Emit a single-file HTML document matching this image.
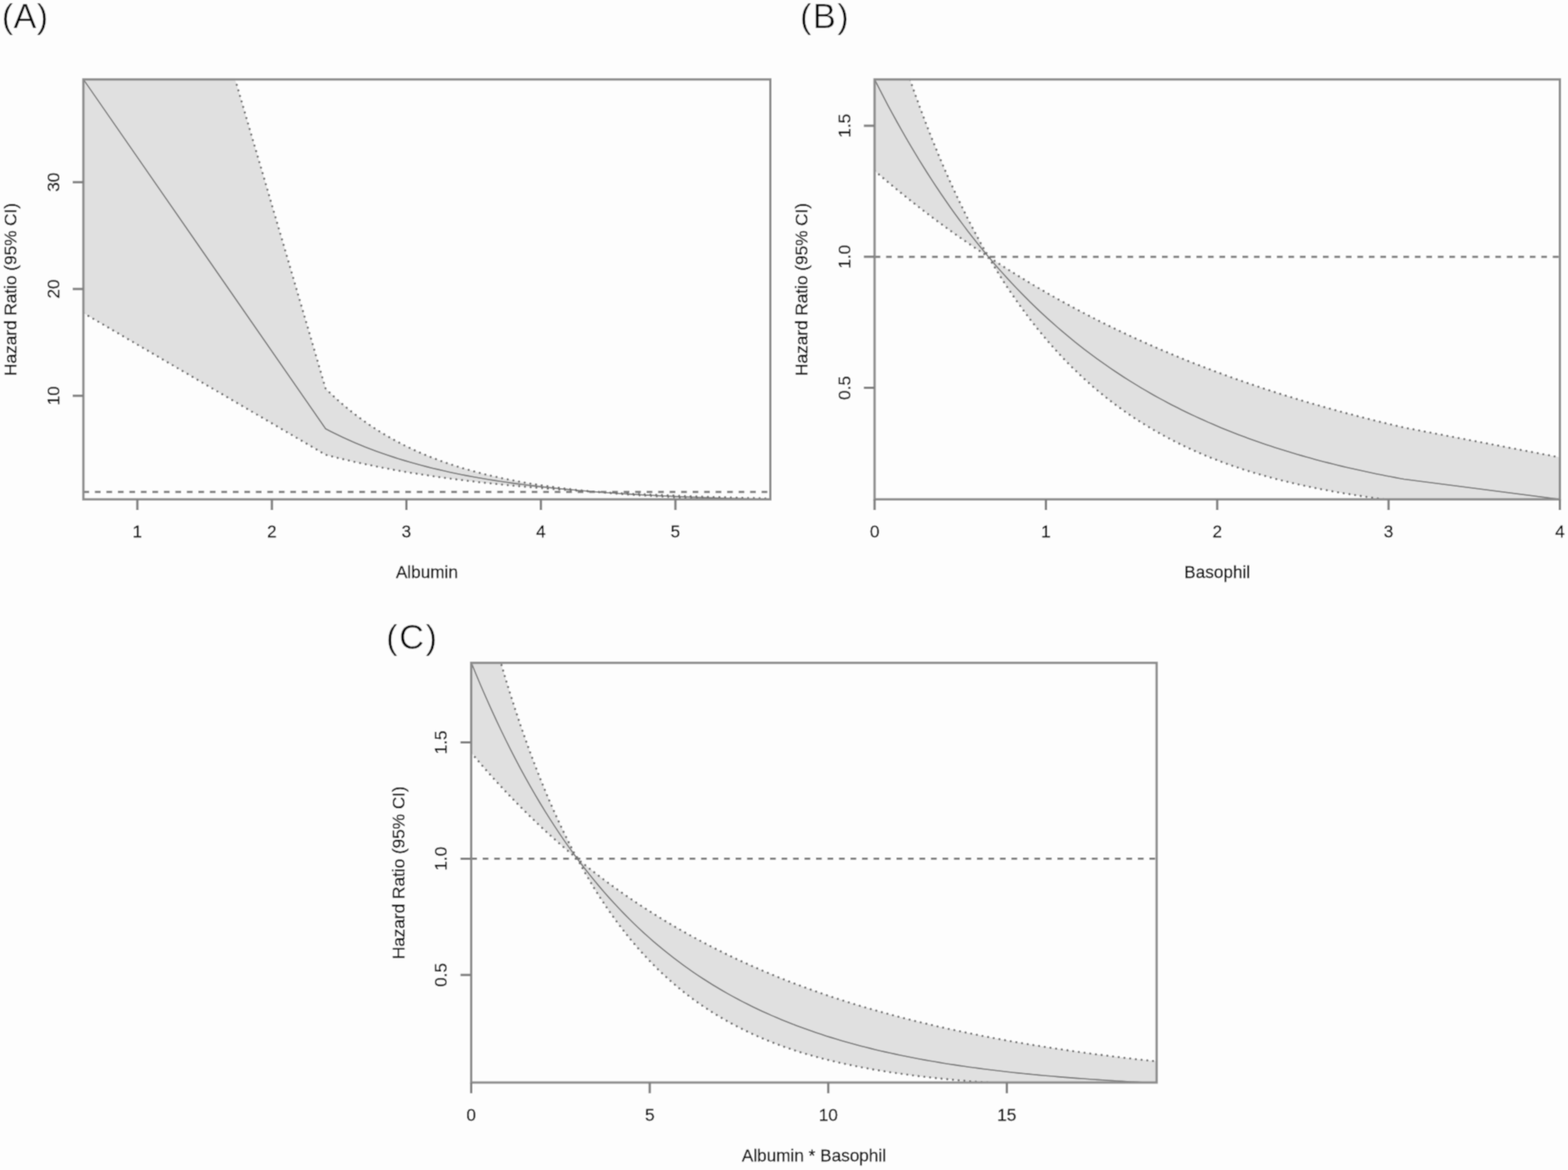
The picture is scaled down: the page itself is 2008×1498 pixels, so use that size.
<!DOCTYPE html>
<html><head><meta charset="utf-8"><title>Hazard ratio plots</title>
<style>html,body{margin:0;padding:0;background:#fdfdfd;overflow:hidden;width:2008px;height:1498px;}svg{display:block;}</style>
</head><body>
<svg width="2008" height="1498" viewBox="0 0 2008 1498">
<defs><filter id="soft" filterUnits="userSpaceOnUse" x="0" y="0" width="2008" height="1498"><feConvolveMatrix order="3" kernelMatrix="0.0400 0.1200 0.0400 0.1200 0.3600 0.1200 0.0400 0.1200 0.0400" divisor="1" edgeMode="duplicate"/></filter></defs>
<rect width="2008" height="1498" fill="#fdfdfd"/>
<g filter="url(#soft)">
<rect width="2008" height="1498" fill="#fdfdfd"/>
<clipPath id="cA"><rect x="106.8" y="101.7" width="879.7" height="537.6"/></clipPath>
<g clip-path="url(#cA)">
<polygon points="106.8,400.72 417,582.3 424.21,584.18 431.42,585.99 438.62,587.75 445.83,589.46 453.04,591.12 460.25,592.72 467.46,594.28 474.67,595.78 481.88,597.24 489.09,598.66 496.3,600.03 503.5,601.37 510.71,602.66 517.92,603.91 525.13,605.12 532.34,606.29 539.55,607.43 546.76,608.54 553.97,609.61 561.18,610.64 568.38,611.65 575.59,612.62 582.8,613.57 590.01,614.49 597.22,615.37 604.43,616.23 611.64,617.07 618.85,617.88 626.06,618.66 633.26,619.42 640.47,620.16 647.68,620.87 654.89,621.56 662.1,622.23 669.31,622.89 676.52,623.52 683.73,624.13 690.94,624.72 698.14,625.29 705.35,625.85 712.56,626.39 719.77,626.91 726.98,627.42 734.19,627.91 741.4,628.39 748.61,628.85 755.82,629.3 763.02,629.73 770.23,630.36 777.44,630.99 784.65,631.59 791.86,632.16 799.07,632.7 806.28,633.22 813.49,633.71 820.7,634.18 827.9,634.62 835.11,635.05 842.32,635.45 849.53,635.83 856.74,636.2 863.95,636.55 871.16,636.88 878.37,637.2 885.58,637.5 892.78,637.78 899.99,638.05 907.2,638.31 914.41,638.56 921.62,638.79 928.83,639.02 936.04,639.23 943.25,639.43 950.46,639.63 957.66,639.81 964.87,639.98 972.08,640.15 979.29,640.31 986.5,640.46 986.5,638.22 979.29,638.06 972.08,637.89 964.87,637.71 957.66,637.53 950.46,637.34 943.25,637.15 936.04,636.95 928.83,636.75 921.62,636.53 914.41,636.32 907.2,636.09 899.99,635.86 892.78,635.62 885.58,635.37 878.37,635.11 871.16,634.85 863.95,634.58 856.74,634.3 849.53,634.01 842.32,633.71 835.11,633.4 827.9,633.08 820.7,632.76 813.49,632.42 806.28,632.07 799.07,631.71 791.86,631.34 784.65,630.95 777.44,630.56 770.23,630.15 763.02,629.7 755.82,629.01 748.61,628.28 741.4,627.52 734.19,626.71 726.98,625.87 719.77,624.98 712.56,624.05 705.35,623.07 698.14,622.04 690.94,620.96 683.73,619.83 676.52,618.64 669.31,617.39 662.1,616.07 654.89,614.69 647.68,613.24 640.47,611.72 633.26,610.12 626.06,608.43 618.85,606.67 611.64,604.81 604.43,602.86 597.22,600.82 590.01,598.66 582.8,596.41 575.59,594.03 568.38,591.54 561.18,588.92 553.97,586.17 546.76,583.28 539.55,580.25 532.34,577.06 525.13,573.71 517.92,570.19 510.71,566.49 503.5,562.61 496.3,558.53 489.09,554.25 481.88,549.75 474.67,545.02 467.46,540.06 460.25,534.84 453.04,529.36 445.83,523.61 438.62,517.56 431.42,511.21 424.21,504.54 417,497.54 106.8,-562.36" fill="#e0e0e0" stroke="none"/>
<polyline points="106.8,-562.36 417,497.54 424.21,504.54 431.42,511.21 438.62,517.56 445.83,523.61 453.04,529.36 460.25,534.84 467.46,540.06 474.67,545.02 481.88,549.75 489.09,554.25 496.3,558.53 503.5,562.61 510.71,566.49 517.92,570.19 525.13,573.71 532.34,577.06 539.55,580.25 546.76,583.28 553.97,586.17 561.18,588.92 568.38,591.54 575.59,594.03 582.8,596.41 590.01,598.66 597.22,600.82 604.43,602.86 611.64,604.81 618.85,606.67 626.06,608.43 633.26,610.12 640.47,611.72 647.68,613.24 654.89,614.69 662.1,616.07 669.31,617.39 676.52,618.64 683.73,619.83 690.94,620.96 698.14,622.04 705.35,623.07 712.56,624.05 719.77,624.98 726.98,625.87 734.19,626.71 741.4,627.52 748.61,628.28 755.82,629.01 763.02,629.7 770.23,630.15 777.44,630.56 784.65,630.95 791.86,631.34 799.07,631.71 806.28,632.07 813.49,632.42 820.7,632.76 827.9,633.08 835.11,633.4 842.32,633.71 849.53,634.01 856.74,634.3 863.95,634.58 871.16,634.85 878.37,635.11 885.58,635.37 892.78,635.62 899.99,635.86 907.2,636.09 914.41,636.32 921.62,636.53 928.83,636.75 936.04,636.95 943.25,637.15 950.46,637.34 957.66,637.53 964.87,637.71 972.08,637.89 979.29,638.06 986.5,638.22" fill="none" stroke="#6c6c6c" stroke-width="2.8" stroke-dasharray="0.01 7.35" stroke-linecap="round"/>
<polyline points="106.8,400.72 417,582.3 424.21,584.18 431.42,585.99 438.62,587.75 445.83,589.46 453.04,591.12 460.25,592.72 467.46,594.28 474.67,595.78 481.88,597.24 489.09,598.66 496.3,600.03 503.5,601.37 510.71,602.66 517.92,603.91 525.13,605.12 532.34,606.29 539.55,607.43 546.76,608.54 553.97,609.61 561.18,610.64 568.38,611.65 575.59,612.62 582.8,613.57 590.01,614.49 597.22,615.37 604.43,616.23 611.64,617.07 618.85,617.88 626.06,618.66 633.26,619.42 640.47,620.16 647.68,620.87 654.89,621.56 662.1,622.23 669.31,622.89 676.52,623.52 683.73,624.13 690.94,624.72 698.14,625.29 705.35,625.85 712.56,626.39 719.77,626.91 726.98,627.42 734.19,627.91 741.4,628.39 748.61,628.85 755.82,629.3 763.02,629.73 770.23,630.36 777.44,630.99 784.65,631.59 791.86,632.16 799.07,632.7 806.28,633.22 813.49,633.71 820.7,634.18 827.9,634.62 835.11,635.05 842.32,635.45 849.53,635.83 856.74,636.2 863.95,636.55 871.16,636.88 878.37,637.2 885.58,637.5 892.78,637.78 899.99,638.05 907.2,638.31 914.41,638.56 921.62,638.79 928.83,639.02 936.04,639.23 943.25,639.43 950.46,639.63 957.66,639.81 964.87,639.98 972.08,640.15 979.29,640.31 986.5,640.46" fill="none" stroke="#6c6c6c" stroke-width="2.8" stroke-dasharray="0.01 7.35" stroke-linecap="round"/>
<polyline points="106.8,101.65 417,548.99 424.21,552.71 431.42,556.28 438.62,559.72 445.83,563.01 453.04,566.18 460.25,569.22 467.46,572.15 474.67,574.95 481.88,577.65 489.09,580.24 496.3,582.73 503.5,585.12 510.71,587.42 517.92,589.63 525.13,591.75 532.34,593.78 539.55,595.74 546.76,597.62 553.97,599.42 561.18,601.15 568.38,602.82 575.59,604.42 582.8,605.96 590.01,607.43 597.22,608.85 604.43,610.21 611.64,611.52 618.85,612.78 626.06,613.99 633.26,615.15 640.47,616.26 647.68,617.33 654.89,618.36 662.1,619.35 669.31,620.3 676.52,621.21 683.73,622.09 690.94,622.93 698.14,623.74 705.35,624.51 712.56,625.26 719.77,625.97 726.98,626.66 734.19,627.32 741.4,627.96 748.61,628.57 755.82,629.15 763.02,629.72 770.23,630.26 777.44,630.78 784.65,631.28 791.86,631.76 799.07,632.22 806.28,632.66 813.49,633.08 820.7,633.49 827.9,633.88 835.11,634.26 842.32,634.62 849.53,634.97 856.74,635.3 863.95,635.62 871.16,635.93 878.37,636.23 885.58,636.51 892.78,636.79 899.99,637.05 907.2,637.3 914.41,637.54 921.62,637.78 928.83,638 936.04,638.21 943.25,638.42 950.46,638.62 957.66,638.81 964.87,638.99 972.08,639.17 979.29,639.34 986.5,639.5" fill="none" stroke="#727272" stroke-width="1.6" stroke-linejoin="round"/>
<line x1="106.8" y1="629.78" x2="986.5" y2="629.78" stroke="#787878" stroke-width="2.8" stroke-dasharray="7.36 7.36"/>
</g>
<rect x="106.8" y="101.7" width="879.7" height="537.6" fill="none" stroke="#8c8c8c" stroke-width="3.0"/>
<path d="M175.92 639.3V653M348.18 639.3V653M520.44 639.3V653M692.7 639.3V653M864.96 639.3V653M106.8 506.7H93.1M106.8 369.95H93.1M106.8 233.2H93.1" stroke="#808080" stroke-width="3.0" fill="none"/>
<g font-family="'Liberation Sans', Arial, Helvetica, sans-serif" font-size="22" fill="#000" stroke="#000" stroke-width="0.3">
<text x="175.92" y="688" text-anchor="middle">1</text>
<text x="348.18" y="688" text-anchor="middle">2</text>
<text x="520.44" y="688" text-anchor="middle">3</text>
<text x="692.7" y="688" text-anchor="middle">4</text>
<text x="864.96" y="688" text-anchor="middle">5</text>
<text transform="translate(75.5,506.7) rotate(-90)" text-anchor="middle">10</text>
<text transform="translate(75.5,369.95) rotate(-90)" text-anchor="middle">20</text>
<text transform="translate(75.5,233.2) rotate(-90)" text-anchor="middle">30</text>
<text x="546.65" y="740.1" text-anchor="middle">Albumin</text>
<text transform="translate(21.1,370.5) rotate(-90)" text-anchor="middle">Hazard Ratio (95% CI)</text>
</g>
<clipPath id="cB"><rect x="1120" y="101.7" width="877.6" height="537.6"/></clipPath>
<g clip-path="url(#cB)">
<polygon points="1120,218.51 1125.7,223.43 1131.39,228.3 1137.09,233.11 1142.79,237.87 1148.49,242.58 1154.18,247.24 1159.88,251.84 1165.58,256.4 1171.27,260.9 1176.97,265.36 1182.67,269.76 1188.36,274.12 1194.06,278.43 1199.76,282.69 1205.46,286.9 1211.15,291.07 1216.85,295.19 1222.55,299.26 1228.24,303.3 1233.94,307.28 1239.64,311.22 1245.33,315.12 1251.03,318.98 1256.73,322.79 1262.43,326.56 1268.12,332.7 1273.82,342.21 1279.52,351.45 1285.21,360.42 1290.91,369.14 1296.61,377.61 1302.3,385.83 1308,393.82 1313.7,401.58 1319.4,409.12 1325.09,416.44 1330.79,423.55 1336.49,430.45 1342.18,437.16 1347.88,443.68 1353.58,450.01 1359.28,456.16 1364.97,462.13 1370.67,467.93 1376.37,473.56 1382.06,479.03 1387.76,484.35 1393.46,489.51 1399.15,494.53 1404.85,499.4 1410.55,504.13 1416.25,508.73 1421.94,513.19 1427.64,517.53 1433.34,521.74 1439.03,525.83 1444.73,529.8 1450.43,533.66 1456.12,537.41 1461.82,541.05 1467.52,544.59 1473.22,548.03 1478.91,551.36 1484.61,554.61 1490.31,557.75 1496,560.81 1501.7,563.78 1507.4,566.67 1513.09,569.47 1518.79,572.19 1524.49,574.84 1530.19,577.4 1535.88,579.9 1541.58,582.32 1547.28,584.68 1552.97,586.96 1558.67,589.18 1564.37,591.34 1570.06,593.44 1575.76,595.47 1581.46,597.45 1587.16,599.37 1592.85,601.23 1598.55,603.04 1604.25,604.8 1609.94,606.51 1615.64,608.17 1621.34,609.78 1627.04,611.35 1632.73,612.87 1638.43,614.35 1644.13,615.78 1649.82,617.18 1655.52,618.53 1661.22,619.85 1666.91,621.13 1672.61,622.37 1678.31,623.57 1684.01,624.74 1689.7,625.88 1695.4,626.98 1701.1,628.06 1706.79,629.1 1712.49,630.11 1718.19,631.1 1723.88,632.05 1729.58,632.98 1735.28,633.88 1740.98,634.75 1746.67,635.6 1752.37,636.43 1758.07,637.23 1763.76,638.01 1769.46,638.77 1775.16,639.5 1780.85,640.22 1786.55,640.91 1792.25,641.58 1797.95,642.24 1997.6,656.41 1997.6,585.61 1797.95,547.41 1792.25,546.08 1786.55,544.74 1780.85,543.38 1775.16,542 1769.46,540.62 1763.76,539.21 1758.07,537.79 1752.37,536.35 1746.67,534.9 1740.98,533.43 1735.28,531.95 1729.58,530.44 1723.88,528.92 1718.19,527.39 1712.49,525.83 1706.79,524.26 1701.1,522.67 1695.4,521.06 1689.7,519.43 1684.01,517.79 1678.31,516.13 1672.61,514.44 1666.91,512.74 1661.22,511.02 1655.52,509.28 1649.82,507.52 1644.13,505.74 1638.43,503.94 1632.73,502.12 1627.04,500.28 1621.34,498.42 1615.64,496.53 1609.94,494.63 1604.25,492.7 1598.55,490.76 1592.85,488.79 1587.16,486.79 1581.46,484.78 1575.76,482.74 1570.06,480.68 1564.37,478.59 1558.67,476.49 1552.97,474.35 1547.28,472.2 1541.58,470.02 1535.88,467.81 1530.19,465.58 1524.49,463.32 1518.79,461.04 1513.09,458.74 1507.4,456.4 1501.7,454.04 1496,451.66 1490.31,449.24 1484.61,446.8 1478.91,444.33 1473.22,441.83 1467.52,439.31 1461.82,436.75 1456.12,434.17 1450.43,431.56 1444.73,428.92 1439.03,426.25 1433.34,423.54 1427.64,420.81 1421.94,418.05 1416.25,415.25 1410.55,412.42 1404.85,409.57 1399.15,406.67 1393.46,403.75 1387.76,400.79 1382.06,397.8 1376.37,394.78 1370.67,391.72 1364.97,388.62 1359.28,385.49 1353.58,382.33 1347.88,379.13 1342.18,375.89 1336.49,372.62 1330.79,369.31 1325.09,365.96 1319.4,362.57 1313.7,359.15 1308,355.69 1302.3,352.18 1296.61,348.64 1290.91,345.06 1285.21,341.44 1279.52,337.77 1273.82,334.06 1268.12,330.32 1262.43,322.87 1256.73,312.72 1251.03,302.27 1245.33,291.51 1239.64,280.44 1233.94,269.03 1228.24,257.28 1222.55,245.19 1216.85,232.73 1211.15,219.91 1205.46,206.7 1199.76,193.1 1194.06,179.1 1188.36,164.68 1182.67,149.84 1176.97,134.55 1171.27,118.81 1165.58,102.6 1159.88,85.91 1154.18,68.72 1148.49,51.02 1142.79,32.8 1137.09,14.03 1131.39,-5.29 1125.7,-25.19 1120,-45.67" fill="#e0e0e0" stroke="none"/>
<polyline points="1120,-45.67 1125.7,-25.19 1131.39,-5.29 1137.09,14.03 1142.79,32.8 1148.49,51.02 1154.18,68.72 1159.88,85.91 1165.58,102.6 1171.27,118.81 1176.97,134.55 1182.67,149.84 1188.36,164.68 1194.06,179.1 1199.76,193.1 1205.46,206.7 1211.15,219.91 1216.85,232.73 1222.55,245.19 1228.24,257.28 1233.94,269.03 1239.64,280.44 1245.33,291.51 1251.03,302.27 1256.73,312.72 1262.43,322.87 1268.12,330.32 1273.82,334.06 1279.52,337.77 1285.21,341.44 1290.91,345.06 1296.61,348.64 1302.3,352.18 1308,355.69 1313.7,359.15 1319.4,362.57 1325.09,365.96 1330.79,369.31 1336.49,372.62 1342.18,375.89 1347.88,379.13 1353.58,382.33 1359.28,385.49 1364.97,388.62 1370.67,391.72 1376.37,394.78 1382.06,397.8 1387.76,400.79 1393.46,403.75 1399.15,406.67 1404.85,409.57 1410.55,412.42 1416.25,415.25 1421.94,418.05 1427.64,420.81 1433.34,423.54 1439.03,426.25 1444.73,428.92 1450.43,431.56 1456.12,434.17 1461.82,436.75 1467.52,439.31 1473.22,441.83 1478.91,444.33 1484.61,446.8 1490.31,449.24 1496,451.66 1501.7,454.04 1507.4,456.4 1513.09,458.74 1518.79,461.04 1524.49,463.32 1530.19,465.58 1535.88,467.81 1541.58,470.02 1547.28,472.2 1552.97,474.35 1558.67,476.49 1564.37,478.59 1570.06,480.68 1575.76,482.74 1581.46,484.78 1587.16,486.79 1592.85,488.79 1598.55,490.76 1604.25,492.7 1609.94,494.63 1615.64,496.53 1621.34,498.42 1627.04,500.28 1632.73,502.12 1638.43,503.94 1644.13,505.74 1649.82,507.52 1655.52,509.28 1661.22,511.02 1666.91,512.74 1672.61,514.44 1678.31,516.13 1684.01,517.79 1689.7,519.43 1695.4,521.06 1701.1,522.67 1706.79,524.26 1712.49,525.83 1718.19,527.39 1723.88,528.92 1729.58,530.44 1735.28,531.95 1740.98,533.43 1746.67,534.9 1752.37,536.35 1758.07,537.79 1763.76,539.21 1769.46,540.62 1775.16,542 1780.85,543.38 1786.55,544.74 1792.25,546.08 1797.95,547.41 1997.6,585.61" fill="none" stroke="#6c6c6c" stroke-width="2.8" stroke-dasharray="0.01 7.35" stroke-linecap="round"/>
<polyline points="1120,218.51 1125.7,223.43 1131.39,228.3 1137.09,233.11 1142.79,237.87 1148.49,242.58 1154.18,247.24 1159.88,251.84 1165.58,256.4 1171.27,260.9 1176.97,265.36 1182.67,269.76 1188.36,274.12 1194.06,278.43 1199.76,282.69 1205.46,286.9 1211.15,291.07 1216.85,295.19 1222.55,299.26 1228.24,303.3 1233.94,307.28 1239.64,311.22 1245.33,315.12 1251.03,318.98 1256.73,322.79 1262.43,326.56 1268.12,332.7 1273.82,342.21 1279.52,351.45 1285.21,360.42 1290.91,369.14 1296.61,377.61 1302.3,385.83 1308,393.82 1313.7,401.58 1319.4,409.12 1325.09,416.44 1330.79,423.55 1336.49,430.45 1342.18,437.16 1347.88,443.68 1353.58,450.01 1359.28,456.16 1364.97,462.13 1370.67,467.93 1376.37,473.56 1382.06,479.03 1387.76,484.35 1393.46,489.51 1399.15,494.53 1404.85,499.4 1410.55,504.13 1416.25,508.73 1421.94,513.19 1427.64,517.53 1433.34,521.74 1439.03,525.83 1444.73,529.8 1450.43,533.66 1456.12,537.41 1461.82,541.05 1467.52,544.59 1473.22,548.03 1478.91,551.36 1484.61,554.61 1490.31,557.75 1496,560.81 1501.7,563.78 1507.4,566.67 1513.09,569.47 1518.79,572.19 1524.49,574.84 1530.19,577.4 1535.88,579.9 1541.58,582.32 1547.28,584.68 1552.97,586.96 1558.67,589.18 1564.37,591.34 1570.06,593.44 1575.76,595.47 1581.46,597.45 1587.16,599.37 1592.85,601.23 1598.55,603.04 1604.25,604.8 1609.94,606.51 1615.64,608.17 1621.34,609.78 1627.04,611.35 1632.73,612.87 1638.43,614.35 1644.13,615.78 1649.82,617.18 1655.52,618.53 1661.22,619.85 1666.91,621.13 1672.61,622.37 1678.31,623.57 1684.01,624.74 1689.7,625.88 1695.4,626.98 1701.1,628.06 1706.79,629.1 1712.49,630.11 1718.19,631.1 1723.88,632.05 1729.58,632.98 1735.28,633.88 1740.98,634.75 1746.67,635.6 1752.37,636.43 1758.07,637.23 1763.76,638.01 1769.46,638.77 1775.16,639.5 1780.85,640.22 1786.55,640.91 1792.25,641.58 1797.95,642.24 1997.6,656.41" fill="none" stroke="#6c6c6c" stroke-width="2.8" stroke-dasharray="0.01 7.35" stroke-linecap="round"/>
<polyline points="1120,101.71 1125.7,112.96 1131.39,123.98 1137.09,134.78 1142.79,145.37 1148.49,155.74 1154.18,165.91 1159.88,175.87 1165.58,185.63 1171.27,195.2 1176.97,204.58 1182.67,213.77 1188.36,222.78 1194.06,231.6 1199.76,240.25 1205.46,248.73 1211.15,257.04 1216.85,265.18 1222.55,273.16 1228.24,280.98 1233.94,288.64 1239.64,296.15 1245.33,303.51 1251.03,310.72 1256.73,317.79 1262.43,324.72 1268.12,331.51 1273.82,338.16 1279.52,344.68 1285.21,351.07 1290.91,357.34 1296.61,363.47 1302.3,369.49 1308,375.38 1313.7,381.16 1319.4,386.82 1325.09,392.37 1330.79,397.8 1336.49,403.13 1342.18,408.35 1347.88,413.47 1353.58,418.49 1359.28,423.4 1364.97,428.22 1370.67,432.94 1376.37,437.56 1382.06,442.1 1387.76,446.54 1393.46,450.9 1399.15,455.16 1404.85,459.34 1410.55,463.44 1416.25,467.46 1421.94,471.4 1427.64,475.25 1433.34,479.03 1439.03,482.74 1444.73,486.37 1450.43,489.93 1456.12,493.41 1461.82,496.83 1467.52,500.18 1473.22,503.46 1478.91,506.68 1484.61,509.83 1490.31,512.92 1496,515.95 1501.7,518.92 1507.4,521.82 1513.09,524.67 1518.79,527.47 1524.49,530.2 1530.19,532.88 1535.88,535.51 1541.58,538.09 1547.28,540.61 1552.97,543.09 1558.67,545.51 1564.37,547.89 1570.06,550.22 1575.76,552.5 1581.46,554.74 1587.16,556.93 1592.85,559.08 1598.55,561.18 1604.25,563.24 1609.94,565.27 1615.64,567.25 1621.34,569.19 1627.04,571.09 1632.73,572.96 1638.43,574.78 1644.13,576.57 1649.82,578.33 1655.52,580.05 1661.22,581.74 1666.91,583.39 1672.61,585.01 1678.31,586.59 1684.01,588.15 1689.7,589.67 1695.4,591.17 1701.1,592.63 1706.79,594.06 1712.49,595.47 1718.19,596.85 1723.88,598.2 1729.58,599.52 1735.28,600.82 1740.98,602.09 1746.67,603.33 1752.37,604.55 1758.07,605.75 1763.76,606.92 1769.46,608.07 1775.16,609.2 1780.85,610.3 1786.55,611.38 1792.25,612.44 1797.95,613.48 1997.6,639.3" fill="none" stroke="#727272" stroke-width="1.6" stroke-linejoin="round"/>
<line x1="1120" y1="328.8" x2="1997.6" y2="328.8" stroke="#787878" stroke-width="2.8" stroke-dasharray="7.36 7.36"/>
</g>
<rect x="1120" y="101.7" width="877.6" height="537.6" fill="none" stroke="#8c8c8c" stroke-width="3.0"/>
<path d="M1120 639.3V653M1339.4 639.3V653M1558.8 639.3V653M1778.2 639.3V653M1997.6 639.3V653M1120 496.6H1106.3M1120 328.8H1106.3M1120 161H1106.3" stroke="#808080" stroke-width="3.0" fill="none"/>
<g font-family="'Liberation Sans', Arial, Helvetica, sans-serif" font-size="22" fill="#000" stroke="#000" stroke-width="0.3">
<text x="1120" y="688" text-anchor="middle">0</text>
<text x="1339.4" y="688" text-anchor="middle">1</text>
<text x="1558.8" y="688" text-anchor="middle">2</text>
<text x="1778.2" y="688" text-anchor="middle">3</text>
<text x="1997.6" y="688" text-anchor="middle">4</text>
<text transform="translate(1088.7,496.6) rotate(-90)" text-anchor="middle">0.5</text>
<text transform="translate(1088.7,328.8) rotate(-90)" text-anchor="middle">1.0</text>
<text transform="translate(1088.7,161) rotate(-90)" text-anchor="middle">1.5</text>
<text x="1558.8" y="740.1" text-anchor="middle">Basophil</text>
<text transform="translate(1034.3,370.5) rotate(-90)" text-anchor="middle">Hazard Ratio (95% CI)</text>
</g>
<clipPath id="cC"><rect x="603.4" y="848.7" width="877.8" height="537.3"/></clipPath>
<g clip-path="url(#cC)">
<polygon points="603.4,963.6 609.72,971.11 616.03,978.49 622.35,985.74 628.66,992.86 634.98,999.86 641.29,1006.75 647.61,1013.51 653.92,1020.15 660.24,1026.68 666.55,1033.1 672.87,1039.4 679.18,1045.6 685.5,1051.69 691.81,1057.67 698.13,1063.55 704.44,1069.33 710.76,1075.01 717.07,1080.59 723.39,1086.07 729.7,1091.46 736.02,1096.75 742.33,1105.13 748.65,1116.43 754.96,1127.28 761.28,1137.71 767.59,1147.75 773.91,1157.39 780.22,1166.66 786.54,1175.57 792.85,1184.14 799.17,1192.38 805.48,1200.3 811.8,1207.91 818.11,1215.23 824.43,1222.26 830.74,1229.02 837.06,1235.53 843.37,1241.78 849.69,1247.78 856,1253.56 862.32,1259.11 868.63,1264.45 874.95,1269.58 881.26,1274.52 887.58,1279.26 893.89,1283.82 900.21,1288.2 906.53,1292.42 912.84,1296.47 919.16,1300.36 925.47,1304.11 931.79,1307.7 938.1,1311.16 944.42,1314.49 950.73,1317.69 957.05,1320.76 963.36,1323.72 969.68,1326.56 975.99,1329.29 982.31,1331.91 988.62,1334.44 994.94,1336.86 1001.25,1339.2 1007.57,1341.44 1013.88,1343.59 1020.2,1345.67 1026.51,1347.66 1032.83,1349.57 1039.14,1351.42 1045.46,1353.19 1051.77,1354.89 1058.09,1356.52 1064.4,1358.1 1070.72,1359.61 1077.03,1361.06 1083.35,1362.46 1089.66,1363.8 1095.98,1365.09 1102.29,1366.33 1108.61,1367.53 1114.92,1368.67 1121.24,1369.78 1127.55,1370.84 1133.87,1371.86 1140.18,1372.84 1146.5,1373.78 1152.81,1374.68 1159.13,1375.55 1165.44,1376.39 1171.76,1377.19 1178.07,1377.97 1184.39,1378.71 1190.71,1379.43 1197.02,1380.11 1203.34,1380.77 1209.65,1381.41 1215.97,1382.02 1222.28,1382.61 1228.6,1383.17 1234.91,1383.71 1241.23,1384.23 1247.54,1384.74 1253.86,1385.22 1260.17,1385.68 1266.49,1386.13 1272.8,1386.55 1279.12,1386.97 1285.43,1387.36 1291.75,1387.74 1298.06,1388.11 1304.38,1388.46 1310.69,1388.8 1317.01,1389.12 1323.32,1389.43 1329.64,1389.73 1335.95,1390.02 1342.27,1390.3 1348.58,1390.57 1354.9,1390.82 1361.21,1391.07 1367.53,1391.31 1373.84,1391.53 1380.16,1391.75 1386.47,1391.96 1392.79,1392.17 1399.1,1392.36 1405.42,1392.55 1411.73,1392.73 1418.05,1392.9 1424.36,1393.07 1430.68,1393.23 1436.99,1393.38 1443.31,1393.53 1449.62,1393.67 1455.94,1393.81 1462.25,1393.94 1468.57,1394.06 1474.88,1394.19 1481.2,1394.3 1481.2,1358.96 1474.88,1358.28 1468.57,1357.6 1462.25,1356.9 1455.94,1356.19 1449.62,1355.47 1443.31,1354.73 1436.99,1353.98 1430.68,1353.22 1424.36,1352.45 1418.05,1351.66 1411.73,1350.86 1405.42,1350.04 1399.1,1349.21 1392.79,1348.36 1386.47,1347.5 1380.16,1346.63 1373.84,1345.74 1367.53,1344.83 1361.21,1343.91 1354.9,1342.97 1348.58,1342.01 1342.27,1341.04 1335.95,1340.05 1329.64,1339.04 1323.32,1338.02 1317.01,1336.97 1310.69,1335.91 1304.38,1334.83 1298.06,1333.73 1291.75,1332.61 1285.43,1331.48 1279.12,1330.32 1272.8,1329.14 1266.49,1327.94 1260.17,1326.72 1253.86,1325.48 1247.54,1324.21 1241.23,1322.93 1234.91,1321.62 1228.6,1320.29 1222.28,1318.93 1215.97,1317.55 1209.65,1316.15 1203.34,1314.72 1197.02,1313.27 1190.71,1311.79 1184.39,1310.28 1178.07,1308.75 1171.76,1307.19 1165.44,1305.6 1159.13,1303.99 1152.81,1302.35 1146.5,1300.68 1140.18,1298.98 1133.87,1297.24 1127.55,1295.48 1121.24,1293.69 1114.92,1291.87 1108.61,1290.01 1102.29,1288.12 1095.98,1286.2 1089.66,1284.24 1083.35,1282.25 1077.03,1280.23 1070.72,1278.17 1064.4,1276.07 1058.09,1273.93 1051.77,1271.76 1045.46,1269.55 1039.14,1267.3 1032.83,1265.01 1026.51,1262.68 1020.2,1260.31 1013.88,1257.9 1007.57,1255.44 1001.25,1252.95 994.94,1250.4 988.62,1247.82 982.31,1245.18 975.99,1242.51 969.68,1239.78 963.36,1237.01 957.05,1234.18 950.73,1231.31 944.42,1228.39 938.1,1225.41 931.79,1222.38 925.47,1219.3 919.16,1216.17 912.84,1212.98 906.53,1209.73 900.21,1206.43 893.89,1203.07 887.58,1199.64 881.26,1196.16 874.95,1192.62 868.63,1189.02 862.32,1185.35 856,1181.61 849.69,1177.81 843.37,1173.95 837.06,1170.01 830.74,1166.01 824.43,1161.94 818.11,1157.79 811.8,1153.57 805.48,1149.28 799.17,1144.91 792.85,1140.46 786.54,1135.94 780.22,1131.33 773.91,1126.65 767.59,1121.88 761.28,1117.03 754.96,1112.09 748.65,1107.07 742.33,1101.95 736.02,1093.39 729.7,1081.17 723.39,1068.46 717.07,1055.24 710.76,1041.49 704.44,1027.19 698.13,1012.31 691.81,996.83 685.5,980.73 679.18,963.98 672.87,946.56 666.55,928.44 660.24,909.59 653.92,889.98 647.61,869.58 641.29,848.36 634.98,826.29 628.66,803.33 622.35,779.45 616.03,754.61 609.72,728.77 603.4,701.89" fill="#e0e0e0" stroke="none"/>
<polyline points="603.4,701.89 609.72,728.77 616.03,754.61 622.35,779.45 628.66,803.33 634.98,826.29 641.29,848.36 647.61,869.58 653.92,889.98 660.24,909.59 666.55,928.44 672.87,946.56 679.18,963.98 685.5,980.73 691.81,996.83 698.13,1012.31 704.44,1027.19 710.76,1041.49 717.07,1055.24 723.39,1068.46 729.7,1081.17 736.02,1093.39 742.33,1101.95 748.65,1107.07 754.96,1112.09 761.28,1117.03 767.59,1121.88 773.91,1126.65 780.22,1131.33 786.54,1135.94 792.85,1140.46 799.17,1144.91 805.48,1149.28 811.8,1153.57 818.11,1157.79 824.43,1161.94 830.74,1166.01 837.06,1170.01 843.37,1173.95 849.69,1177.81 856,1181.61 862.32,1185.35 868.63,1189.02 874.95,1192.62 881.26,1196.16 887.58,1199.64 893.89,1203.07 900.21,1206.43 906.53,1209.73 912.84,1212.98 919.16,1216.17 925.47,1219.3 931.79,1222.38 938.1,1225.41 944.42,1228.39 950.73,1231.31 957.05,1234.18 963.36,1237.01 969.68,1239.78 975.99,1242.51 982.31,1245.18 988.62,1247.82 994.94,1250.4 1001.25,1252.95 1007.57,1255.44 1013.88,1257.9 1020.2,1260.31 1026.51,1262.68 1032.83,1265.01 1039.14,1267.3 1045.46,1269.55 1051.77,1271.76 1058.09,1273.93 1064.4,1276.07 1070.72,1278.17 1077.03,1280.23 1083.35,1282.25 1089.66,1284.24 1095.98,1286.2 1102.29,1288.12 1108.61,1290.01 1114.92,1291.87 1121.24,1293.69 1127.55,1295.48 1133.87,1297.24 1140.18,1298.98 1146.5,1300.68 1152.81,1302.35 1159.13,1303.99 1165.44,1305.6 1171.76,1307.19 1178.07,1308.75 1184.39,1310.28 1190.71,1311.79 1197.02,1313.27 1203.34,1314.72 1209.65,1316.15 1215.97,1317.55 1222.28,1318.93 1228.6,1320.29 1234.91,1321.62 1241.23,1322.93 1247.54,1324.21 1253.86,1325.48 1260.17,1326.72 1266.49,1327.94 1272.8,1329.14 1279.12,1330.32 1285.43,1331.48 1291.75,1332.61 1298.06,1333.73 1304.38,1334.83 1310.69,1335.91 1317.01,1336.97 1323.32,1338.02 1329.64,1339.04 1335.95,1340.05 1342.27,1341.04 1348.58,1342.01 1354.9,1342.97 1361.21,1343.91 1367.53,1344.83 1373.84,1345.74 1380.16,1346.63 1386.47,1347.5 1392.79,1348.36 1399.1,1349.21 1405.42,1350.04 1411.73,1350.86 1418.05,1351.66 1424.36,1352.45 1430.68,1353.22 1436.99,1353.98 1443.31,1354.73 1449.62,1355.47 1455.94,1356.19 1462.25,1356.9 1468.57,1357.6 1474.88,1358.28 1481.2,1358.96" fill="none" stroke="#6c6c6c" stroke-width="2.8" stroke-dasharray="0.01 7.35" stroke-linecap="round"/>
<polyline points="603.4,963.6 609.72,971.11 616.03,978.49 622.35,985.74 628.66,992.86 634.98,999.86 641.29,1006.75 647.61,1013.51 653.92,1020.15 660.24,1026.68 666.55,1033.1 672.87,1039.4 679.18,1045.6 685.5,1051.69 691.81,1057.67 698.13,1063.55 704.44,1069.33 710.76,1075.01 717.07,1080.59 723.39,1086.07 729.7,1091.46 736.02,1096.75 742.33,1105.13 748.65,1116.43 754.96,1127.28 761.28,1137.71 767.59,1147.75 773.91,1157.39 780.22,1166.66 786.54,1175.57 792.85,1184.14 799.17,1192.38 805.48,1200.3 811.8,1207.91 818.11,1215.23 824.43,1222.26 830.74,1229.02 837.06,1235.53 843.37,1241.78 849.69,1247.78 856,1253.56 862.32,1259.11 868.63,1264.45 874.95,1269.58 881.26,1274.52 887.58,1279.26 893.89,1283.82 900.21,1288.2 906.53,1292.42 912.84,1296.47 919.16,1300.36 925.47,1304.11 931.79,1307.7 938.1,1311.16 944.42,1314.49 950.73,1317.69 957.05,1320.76 963.36,1323.72 969.68,1326.56 975.99,1329.29 982.31,1331.91 988.62,1334.44 994.94,1336.86 1001.25,1339.2 1007.57,1341.44 1013.88,1343.59 1020.2,1345.67 1026.51,1347.66 1032.83,1349.57 1039.14,1351.42 1045.46,1353.19 1051.77,1354.89 1058.09,1356.52 1064.4,1358.1 1070.72,1359.61 1077.03,1361.06 1083.35,1362.46 1089.66,1363.8 1095.98,1365.09 1102.29,1366.33 1108.61,1367.53 1114.92,1368.67 1121.24,1369.78 1127.55,1370.84 1133.87,1371.86 1140.18,1372.84 1146.5,1373.78 1152.81,1374.68 1159.13,1375.55 1165.44,1376.39 1171.76,1377.19 1178.07,1377.97 1184.39,1378.71 1190.71,1379.43 1197.02,1380.11 1203.34,1380.77 1209.65,1381.41 1215.97,1382.02 1222.28,1382.61 1228.6,1383.17 1234.91,1383.71 1241.23,1384.23 1247.54,1384.74 1253.86,1385.22 1260.17,1385.68 1266.49,1386.13 1272.8,1386.55 1279.12,1386.97 1285.43,1387.36 1291.75,1387.74 1298.06,1388.11 1304.38,1388.46 1310.69,1388.8 1317.01,1389.12 1323.32,1389.43 1329.64,1389.73 1335.95,1390.02 1342.27,1390.3 1348.58,1390.57 1354.9,1390.82 1361.21,1391.07 1367.53,1391.31 1373.84,1391.53 1380.16,1391.75 1386.47,1391.96 1392.79,1392.17 1399.1,1392.36 1405.42,1392.55 1411.73,1392.73 1418.05,1392.9 1424.36,1393.07 1430.68,1393.23 1436.99,1393.38 1443.31,1393.53 1449.62,1393.67 1455.94,1393.81 1462.25,1393.94 1468.57,1394.06 1474.88,1394.19 1481.2,1394.3" fill="none" stroke="#6c6c6c" stroke-width="2.8" stroke-dasharray="0.01 7.35" stroke-linecap="round"/>
<polyline points="603.4,848.12 609.72,863.52 616.03,878.49 622.35,893.04 628.66,907.18 634.98,920.92 641.29,934.28 647.61,947.26 653.92,959.88 660.24,972.15 666.55,984.07 672.87,995.66 679.18,1006.92 685.5,1017.86 691.81,1028.5 698.13,1038.84 704.44,1048.89 710.76,1058.66 717.07,1068.16 723.39,1077.39 729.7,1086.36 736.02,1095.07 742.33,1103.55 748.65,1111.78 754.96,1119.79 761.28,1127.57 767.59,1135.13 773.91,1142.48 780.22,1149.63 786.54,1156.57 792.85,1163.32 799.17,1169.88 805.48,1176.25 811.8,1182.45 818.11,1188.47 824.43,1194.33 830.74,1200.02 837.06,1205.55 843.37,1210.92 849.69,1216.15 856,1221.23 862.32,1226.16 868.63,1230.96 874.95,1235.62 881.26,1240.15 887.58,1244.56 893.89,1248.84 900.21,1253 906.53,1257.04 912.84,1260.98 919.16,1264.8 925.47,1268.51 931.79,1272.12 938.1,1275.63 944.42,1279.04 950.73,1282.35 957.05,1285.57 963.36,1288.7 969.68,1291.75 975.99,1294.7 982.31,1297.58 988.62,1300.37 994.94,1303.09 1001.25,1305.73 1007.57,1308.29 1013.88,1310.79 1020.2,1313.21 1026.51,1315.57 1032.83,1317.86 1039.14,1320.08 1045.46,1322.24 1051.77,1324.35 1058.09,1326.39 1064.4,1328.38 1070.72,1330.31 1077.03,1332.18 1083.35,1334.01 1089.66,1335.78 1095.98,1337.5 1102.29,1339.17 1108.61,1340.8 1114.92,1342.38 1121.24,1343.92 1127.55,1345.42 1133.87,1346.87 1140.18,1348.28 1146.5,1349.65 1152.81,1350.99 1159.13,1352.28 1165.44,1353.54 1171.76,1354.77 1178.07,1355.96 1184.39,1357.11 1190.71,1358.24 1197.02,1359.33 1203.34,1360.39 1209.65,1361.42 1215.97,1362.43 1222.28,1363.4 1228.6,1364.35 1234.91,1365.27 1241.23,1366.17 1247.54,1367.04 1253.86,1367.88 1260.17,1368.71 1266.49,1369.51 1272.8,1370.28 1279.12,1371.04 1285.43,1371.77 1291.75,1372.48 1298.06,1373.18 1304.38,1373.85 1310.69,1374.51 1317.01,1375.14 1323.32,1375.76 1329.64,1376.36 1335.95,1376.95 1342.27,1377.51 1348.58,1378.07 1354.9,1378.6 1361.21,1379.13 1367.53,1379.63 1373.84,1380.12 1380.16,1380.6 1386.47,1381.07 1392.79,1381.52 1399.1,1381.96 1405.42,1382.39 1411.73,1382.8 1418.05,1383.21 1424.36,1383.6 1430.68,1383.98 1436.99,1384.35 1443.31,1384.71 1449.62,1385.06 1455.94,1385.4 1462.25,1385.73 1468.57,1386.06 1474.88,1386.37 1481.2,1386.67" fill="none" stroke="#727272" stroke-width="1.6" stroke-linejoin="round"/>
<line x1="603.4" y1="1099.4" x2="1481.2" y2="1099.4" stroke="#787878" stroke-width="2.8" stroke-dasharray="7.36 7.36"/>
</g>
<rect x="603.4" y="848.7" width="877.8" height="537.3" fill="none" stroke="#8c8c8c" stroke-width="3.0"/>
<path d="M603.4 1386V1399.7M832.05 1386V1399.7M1060.7 1386V1399.7M1289.35 1386V1399.7M603.4 1248.3H589.7M603.4 1099.4H589.7M603.4 950.5H589.7" stroke="#808080" stroke-width="3.0" fill="none"/>
<g font-family="'Liberation Sans', Arial, Helvetica, sans-serif" font-size="22" fill="#000" stroke="#000" stroke-width="0.3">
<text x="603.4" y="1434.7" text-anchor="middle">0</text>
<text x="832.05" y="1434.7" text-anchor="middle">5</text>
<text x="1060.7" y="1434.7" text-anchor="middle">10</text>
<text x="1289.35" y="1434.7" text-anchor="middle">15</text>
<text transform="translate(572.1,1248.3) rotate(-90)" text-anchor="middle">0.5</text>
<text transform="translate(572.1,1099.4) rotate(-90)" text-anchor="middle">1.0</text>
<text transform="translate(572.1,950.5) rotate(-90)" text-anchor="middle">1.5</text>
<text x="1042.3" y="1486.8" text-anchor="middle">Albumin * Basophil</text>
<text transform="translate(517.7,1117.35) rotate(-90)" text-anchor="middle">Hazard Ratio (95% CI)</text>
</g>
<g font-family="'Liberation Sans', Arial, Helvetica, sans-serif" font-size="44" fill="#000" stroke="#fdfdfd" stroke-width="0.4">
<text x="2.3" y="36.3" letter-spacing="0.4">(A)</text>
<text x="1024.5" y="36.3" letter-spacing="1.9">(B)</text>
<text x="494.5" y="831" letter-spacing="2">(C)</text>
</g>
</g>
</svg>
</body></html>
